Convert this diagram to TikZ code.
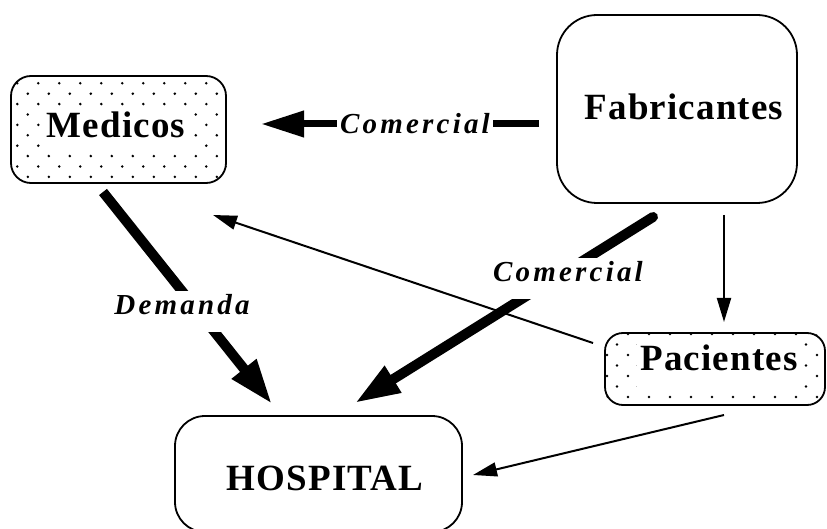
\documentclass[tikz,border=0pt]{standalone}
\usepackage{fontspec}
\setmainfont{Liberation Serif}
\newfontfamily\boxfont{Liberation Serif}[LetterSpace=3]
\newfontfamily\labfont{Liberation Serif}[LetterSpace=11]
\usetikzlibrary{arrows.meta}

\begin{document}
\begin{tikzpicture}[x=1pt,y=-1pt,
  boxshape/.style={draw, line width=1.8pt, rounded corners=#1, inner sep=0pt},
  boxtext/.style={font=\fontsize{37}{44}\selectfont\boxfont\bfseries, inner xsep=4pt, inner ysep=2pt, text depth=11pt, anchor=base},
  whitetext/.style={boxtext, fill=white},
  lab/.style={font=\fontsize{29}{35}\selectfont\labfont\bfseries\itshape, fill=white, inner xsep=3pt, inner ysep=4pt, text depth=13pt, anchor=base},
  dot/.style={fill=black},
  medarrow/.style={line width=7pt, -{Triangle[length=43pt,width=25pt]}},
  thickarrow/.style={line width=10pt, -{Triangle[length=45pt,width=29pt]}},
  thinarrow/.style={line width=2pt, -{Triangle[length=24pt,width=14pt]}}
]
\useasboundingbox (0,0) rectangle (827,529);
\fill[white] (0,0) rectangle (827,529);

% boxes
\node[boxshape=20pt, minimum width=215pt, minimum height=107pt] (medbox) at (118.5,129.5) {};
\node[boxshape=40pt, minimum width=240pt, minimum height=188pt] (fabbox) at (677,109) {};
\node[boxshape=18pt, minimum width=220pt, minimum height=72pt] (pacbox) at (715,369) {};
\node[boxshape=30pt, minimum width=287pt, minimum height=116pt] (hosbox) at (318.5,474) {};

% dots in Medicos
\begin{scope}
  \clip[rounded corners=20pt] (medbox.north west) rectangle (medbox.south east);
  \foreach \r in {0,...,9} {
    \pgfmathsetmacro\yy{83.3+10.4*\r}
    \pgfmathsetmacro\xo{mod(\r,2)==1 ? 27.8 : 38.3}
    \foreach \k in {-1,...,10} { \fill[dot] (\xo+21*\k,\yy) circle (1.4pt); }
  }
\end{scope}
% dots in Pacientes
\begin{scope}
  \clip[rounded corners=18pt] (pacbox.north west) rectangle (pacbox.south east);
  \foreach \r in {0,...,6} {
    \pgfmathsetmacro\yy{397-10.5*\r}
    \pgfmathsetmacro\xo{mod(\r,2)==1 ? 617 : 628}
    \foreach \k in {-1,...,10} { \fill[dot] (\xo+21*\k,\yy) circle (1.4pt); }
  }
\end{scope}

% texts
\node[whitetext] (med) at (116,138) {Medicos};
\node[boxtext] (fab) at (684,120) {Fabricantes};
\node[whitetext, text depth=16pt] (pac) at (719,370) {Pacientes};
\node[boxtext] (hos) at (325,490) {HOSPITAL};

% connector ends
\coordinate (a1s) at (539,124);
\coordinate (a1e) at (261,124);
\coordinate (a2s) at (103,192);
\coordinate (a2e) at (272,404);
\coordinate (a3s) at (653,217);
\coordinate (a3e) at (355,403);
\coordinate (a4s) at (724,215);
\coordinate (a4e) at (724,322);
\coordinate (a5s) at (593,343);
\coordinate (a5e) at (213,215);
\coordinate (a6s) at (724,415);
\coordinate (a6e) at (473,475);

% connectors
\draw[medarrow] (a1s) -- (a1e);
\draw[thickarrow] (a2s) -- (a2e);
\draw[thickarrow, line cap=round] (a3s) -- (a3e);
\draw[thinarrow] (a4s) -- (a4e);
\draw[thinarrow] (a5s) -- (a5e);
\draw[thinarrow] (a6s) -- (a6e);

% labels
\node[lab] (l1) at (415,134) {Comercial};
\node[lab] (l2) at (182,315) {Demanda};
\node[lab] (l3) at (568,282) {Comercial};
\end{tikzpicture}
\end{document}
